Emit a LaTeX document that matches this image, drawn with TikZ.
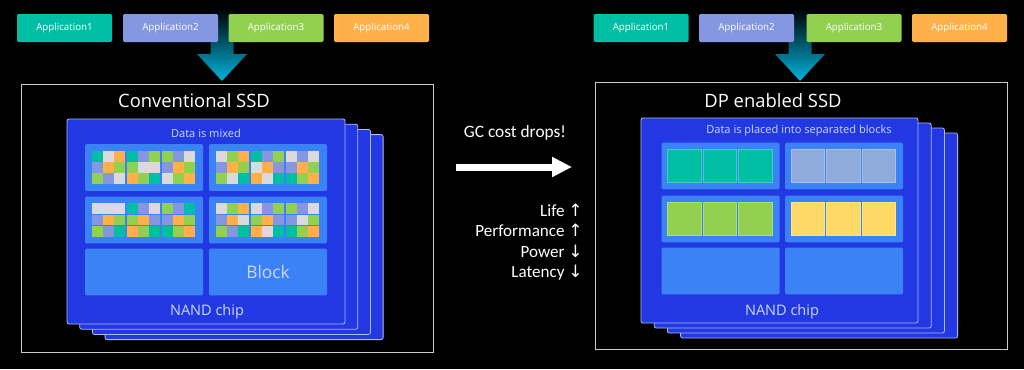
\documentclass[tikz,border=0pt]{standalone}
\usepackage{fontspec}
\setmainfont{Open Sans}
\newfontfamily\calfont{Carlito}
\newfontfamily\arrowfont{DejaVu Sans}
\usetikzlibrary{arrows.meta}

\definecolor{cT}{RGB}{0,191,165}
\definecolor{cP}{RGB}{132,151,224}
\definecolor{cL}{RGB}{146,208,80}
\definecolor{cO}{RGB}{255,176,72}
\definecolor{cG}{RGB}{218,218,218}
\definecolor{sepgrey}{RGB}{143,170,220}
\definecolor{sepyellow}{RGB}{255,217,102}
\definecolor{chipblue}{RGB}{33,56,226}
\definecolor{chipline}{RGB}{175,185,240}
\definecolor{blockblue}{RGB}{59,130,246}
\definecolor{arrowcyan}{RGB}{0,180,220}
\definecolor{textlav}{RGB}{205,215,255}

\tikzset{
  app/.style={fill=#1, rounded corners=1pt, minimum width=71.25pt, minimum height=21pt,
    inner sep=0pt, text=white, font=\fontsize{7.3}{8}\selectfont},
  ssdframe/.style={draw=white!80!black, line width=0.75pt},
  chip/.style={fill=chipblue, draw=chipline, line width=0.6pt, rounded corners=1.5pt},
  blk/.style={fill=blockblue, rounded corners=1pt, minimum width=88.5pt, minimum height=35pt, inner sep=0pt},
  title/.style={text=white, font=\fontsize{13.8}{15}\selectfont},
  chiptext/.style={text=textlav, font=\fontsize{#1}{#1}\selectfont},
  fatarrow/.style={top color=black, bottom color=arrowcyan}
}

% one row of 9 cells (3 pages of 3)
\newcommand\cellrow[3]{%
  \foreach \c [count=\k from 0] in {#3}
    \fill[\c] ({#1+\k*11.17+int(\k/3)*1.7},#2) rectangle ++(10.8,10.8);}
\newcommand\mixedblock[4]{%
  \begin{scope}[shift={(#1.north west)}]
    \cellrow{7}{7}{#2}\cellrow{7}{18.2}{#3}\cellrow{7}{29.4}{#4}
  \end{scope}}
\newcommand\sepblock[2]{%
  \begin{scope}[shift={(#1.north west)}]
    \foreach \k in {0,1,2}
      \filldraw[fill=#2, draw=#2!75!white, line width=0.3pt] ({6.3+\k*35.4},6.7) rectangle ++(33.4,33.3);
  \end{scope}}
\newcommand\fatarrow[1]{%
  \shade[fatarrow] (#1) -- ++(-25,-27) -- ++(13.5,0) -- ++(0,-46) -- ++(23,0)
    -- ++(0,46) -- ++(13.5,0) -- cycle;}

\begin{document}
\begin{tikzpicture}[x=0.75pt,y=-0.75pt]
  \fill[black] (0,0) rectangle (1024,369);
  \useasboundingbox (0,0) rectangle (1024,369);

  % left: conventional SSD
  \coordinate (ltip) at (222,81);
  \fatarrow{ltip}
  \node (lapp1) [app=cT] at (64.5,28) {Application1};
  \node (lapp2) [app=cP] at (170.5,28) {Application2};
  \node (lapp3) [app=cL] at (276,28) {Application3};
  \node (lapp4) [app=cO] at (381.5,28) {Application4};
  \draw[ssdframe] (21,84) rectangle (433,352);
  \node (ltitle) [title] at (194,101) {Conventional SSD};
  \foreach \i in {3,2,1,0}
    \draw[chip] ({67+12.7*\i},{119+5.2*\i}) rectangle ++(278,205);
  \node (lmix) [chiptext=8.3] at (206,133) {Data is mixed};
  \node (lb11) [blk] at (144,167.5) {};
  \node (lb12) [blk] at (268,167.5) {};
  \node (lb21) [blk] at (144,220) {};
  \node (lb22) [blk] at (268,220) {};
  \node (lb31) [blk] at (144,272) {};
  \node (lb32) [blk] at (268,272) {};
  \mixedblock{lb11}{cT,cG,cO,cT,cP,cL,cL,cP,cG}{cP,cO,cL,cL,cG,cG,cP,cO,cL}{cL,cP,cG,cO,cL,cT,cG,cL,cO}
  \mixedblock{lb12}{cG,cL,cO,cT,cP,cL,cG,cP,cG}{cP,cO,cL,cG,cO,cP,cP,cO,cL}{cL,cG,cT,cO,cG,cT,cT,cL,cO}
  \mixedblock{lb21}{cG,cG,cG,cT,cP,cG,cL,cP,cT}{cP,cO,cL,cL,cO,cP,cP,cO,cL}{cL,cP,cT,cO,cL,cT,cT,cL,cO}
  \mixedblock{lb22}{cG,cL,cO,cG,cP,cL,cL,cP,cG}{cP,cO,cG,cL,cO,cP,cP,cG,cL}{cL,cP,cT,cO,cG,cT,cT,cL,cO}
  \node (lblock) [chiptext=13] at (lb32) {Block};
  \node (lnand) [chiptext=10.9] at (207,312) {NAND chip};

  % middle
  \node (gc) [text=white, font=\calfont\fontsize{13}{14}\selectfont] at (515,133) {GC cost drops!};
  \coordinate (gcfrom) at (456,167);
  \coordinate (gcto) at (572,167);
  \draw[white, line width=5.25pt, -{Triangle[length=15pt,width=14.25pt]}] (gcfrom) -- (gcto);
  \node (gains) [anchor=east, align=right, inner sep=0pt, text=white, font=\calfont\fontsize{12.8}{15.3}\selectfont]
    at (583,242) {Life {\arrowfont↑}\\Performance {\arrowfont↑}\\Power {\arrowfont↓}\\Latency {\arrowfont↓}};

  % right: DP enabled SSD
  \coordinate (rtip) at (800,81);
  \fatarrow{rtip}
  \node (rapp1) [app=cT] at (641,28) {Application1};
  \node (rapp2) [app=cP] at (746.5,28) {Application2};
  \node (rapp3) [app=cL] at (854,28) {Application3};
  \node (rapp4) [app=cO] at (959.5,28) {Application4};
  \draw[ssdframe] (595,82) rectangle (1007,349);
  \node (rtitle) [title] at (773,101) {DP enabled SSD};
  \foreach \i in {3,2,1,0}
    \draw[chip] ({641+13.2*\i},{118+5*\i}) rectangle ++(277,205);
  \node (rsep) [chiptext=8.3] at (799,131) {Data is placed into separated blocks};
  \node (rb11) [blk] at (720.5,166) {};
  \node (rb12) [blk] at (844,166) {};
  \node (rb21) [blk] at (720.5,219) {};
  \node (rb22) [blk] at (844,219) {};
  \node (rb31) [blk] at (720.5,271) {};
  \node (rb32) [blk] at (844,271) {};
  \sepblock{rb11}{cT}
  \sepblock{rb12}{sepgrey}
  \sepblock{rb21}{cL}
  \sepblock{rb22}{sepyellow}
  \node (rnand) [chiptext=10.9] at (782,312) {NAND chip};
\end{tikzpicture}
\end{document}
